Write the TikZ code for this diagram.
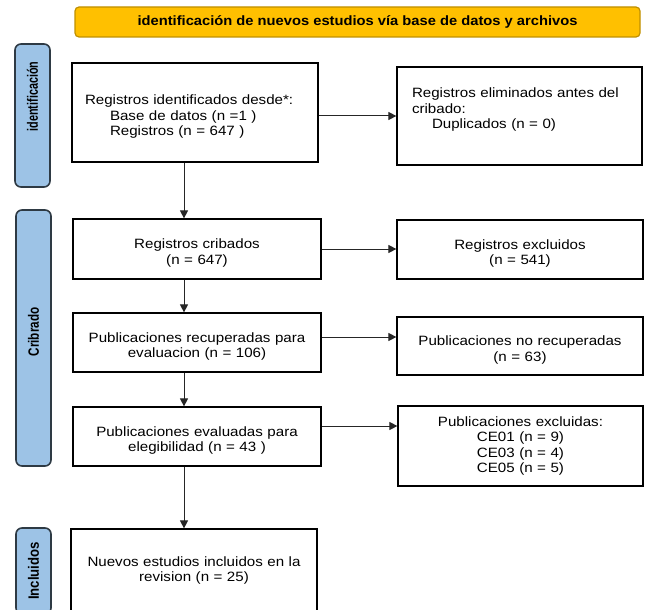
\documentclass[tikz,border=0pt]{standalone}
\usepackage{fontspec}
\setmainfont{Liberation Sans}[FakeStretch=1.12]
\newfontfamily\titulofont{Liberation Sans}[FakeStretch=1.09]
\newfontfamily\ladofont{Liberation Sans}
\usepackage{tikz}
\usetikzlibrary{arrows.meta}
\usepackage{xcolor}
\definecolor{oro}{HTML}{FFC000}
\definecolor{orooscuro}{HTML}{BF9000}
\definecolor{celeste}{HTML}{9DC3E6}
\definecolor{bordelado}{HTML}{2E3A44}

\begin{document}
\begin{tikzpicture}[x=1pt,y=-1pt,
		caja/.style={draw,line width=1.2pt,text width=222pt,align=center,font=\fontsize{13.5}{15.5}\selectfont},
		bajo/.style={execute at begin node={\rule{0pt}{18pt}}},
		fase/.style={draw=bordelado,fill=celeste,line width=1.6pt,rounded corners=6pt,minimum width=35pt},
		etiqueta/.style={rotate=90,inner sep=0pt,font=\ladofont\bfseries\fontsize{15}{17}\selectfont},
		flecha/.style={-{Triangle[length=8pt,width=8pt]},line width=1pt,black!85}]
			\clip (0,0) rectangle (646,610);
			\node[draw=orooscuro,fill=oro,line width=1.2pt,rounded corners=4pt,minimum width=565pt,minimum height=30pt,font=\titulofont\bfseries\fontsize{13.5}{15}\selectfont] (titulo) at (357.5,22) {identificación de nuevos estudios vía base de datos y archivos};
			\node[fase,minimum height=143pt] (ladoid) at (32.5,115.5) {};
			\node[fase,minimum height=256pt] (ladocrib) at (33.5,338) {};
			\node[fase,minimum height=86pt] (ladoincl) at (33.5,571) {};
			\node[etiqueta] (textoid) at (32.5,96.5) {\addfontfeature{FakeStretch=0.72}identificación};
			\node[etiqueta] (textocrib) at (33.5,332) {\addfontfeature{FakeStretch=0.78}Cribrado};
			\node[etiqueta] (textoincl) at (33.5,571) {\addfontfeature{FakeStretch=0.88}Incluidos};
			\node[caja,bajo,align=left,text width=220pt,inner xsep=13pt,minimum height=99pt] (reg) at (195,112.5) {Registros identificados desde*:\\\hspace*{25pt}Base de datos (n =1 )\\\hspace*{25pt}Registros (n = 647 )};
			\node[caja,align=left,text width=215pt,inner xsep=15pt,minimum height=98pt] (elim) at (519.5,116) {Registros eliminados antes del\\cribado:\\\hspace*{20pt}Duplicados (n = 0)\\~};
			\node[caja,bajo,minimum width=248pt,minimum height=60pt] (crib) at (197,249) {Registros cribados\\(n = 647)};
			\node[caja,bajo,minimum width=246pt,minimum height=59pt] (excl) at (520,249.5) {Registros excluidos\\(n = 541)};
			\node[caja,bajo,minimum width=248pt,minimum height=59pt] (recup) at (197,342.5) {Publicaciones recuperadas para\\evaluacion (n = 106)};
			\node[caja,bajo,minimum width=246pt,minimum height=58pt] (norec) at (520,346) {Publicaciones no recuperadas\\(n = 63)};
			\node[caja,bajo,minimum width=248pt,minimum height=59pt] (eval) at (197,436.5) {Publicaciones evaluadas para\\elegibilidad (n = 43 )};
			\node[caja,minimum width=245pt,minimum height=80pt] (exclu) at (520.5,446) {Publicaciones excluidas:\\CE01 (n = 9)\\CE03 (n = 4)\\CE05 (n = 5)};
			\node[caja,minimum width=246pt,minimum height=83pt] (incl) at (194,570.5) {Nuevos estudios incluidos en la\\revision (n = 25)};
			\coordinate (eje) at (184,0);
			\foreach \De/\A in {reg/crib,crib/recup,recup/eval,eval/incl}
				\draw[flecha] (\De.south -| eje) -- (\A.north -| eje);
			\draw[flecha] ([yshift=-3.5pt]reg.east) -- ([yshift=-3.5pt]reg.east -| elim.west);
			\draw[flecha] (crib.east) -- (crib.east -| excl.west);
			\draw[flecha] ([yshift=5.5pt]recup.east) -- ([yshift=5.5pt]recup.east -| norec.west);
			\draw[flecha] ([yshift=10.5pt]eval.east) -- ([yshift=10.5pt]eval.east -| exclu.west);
		\end{tikzpicture}
\end{document}
